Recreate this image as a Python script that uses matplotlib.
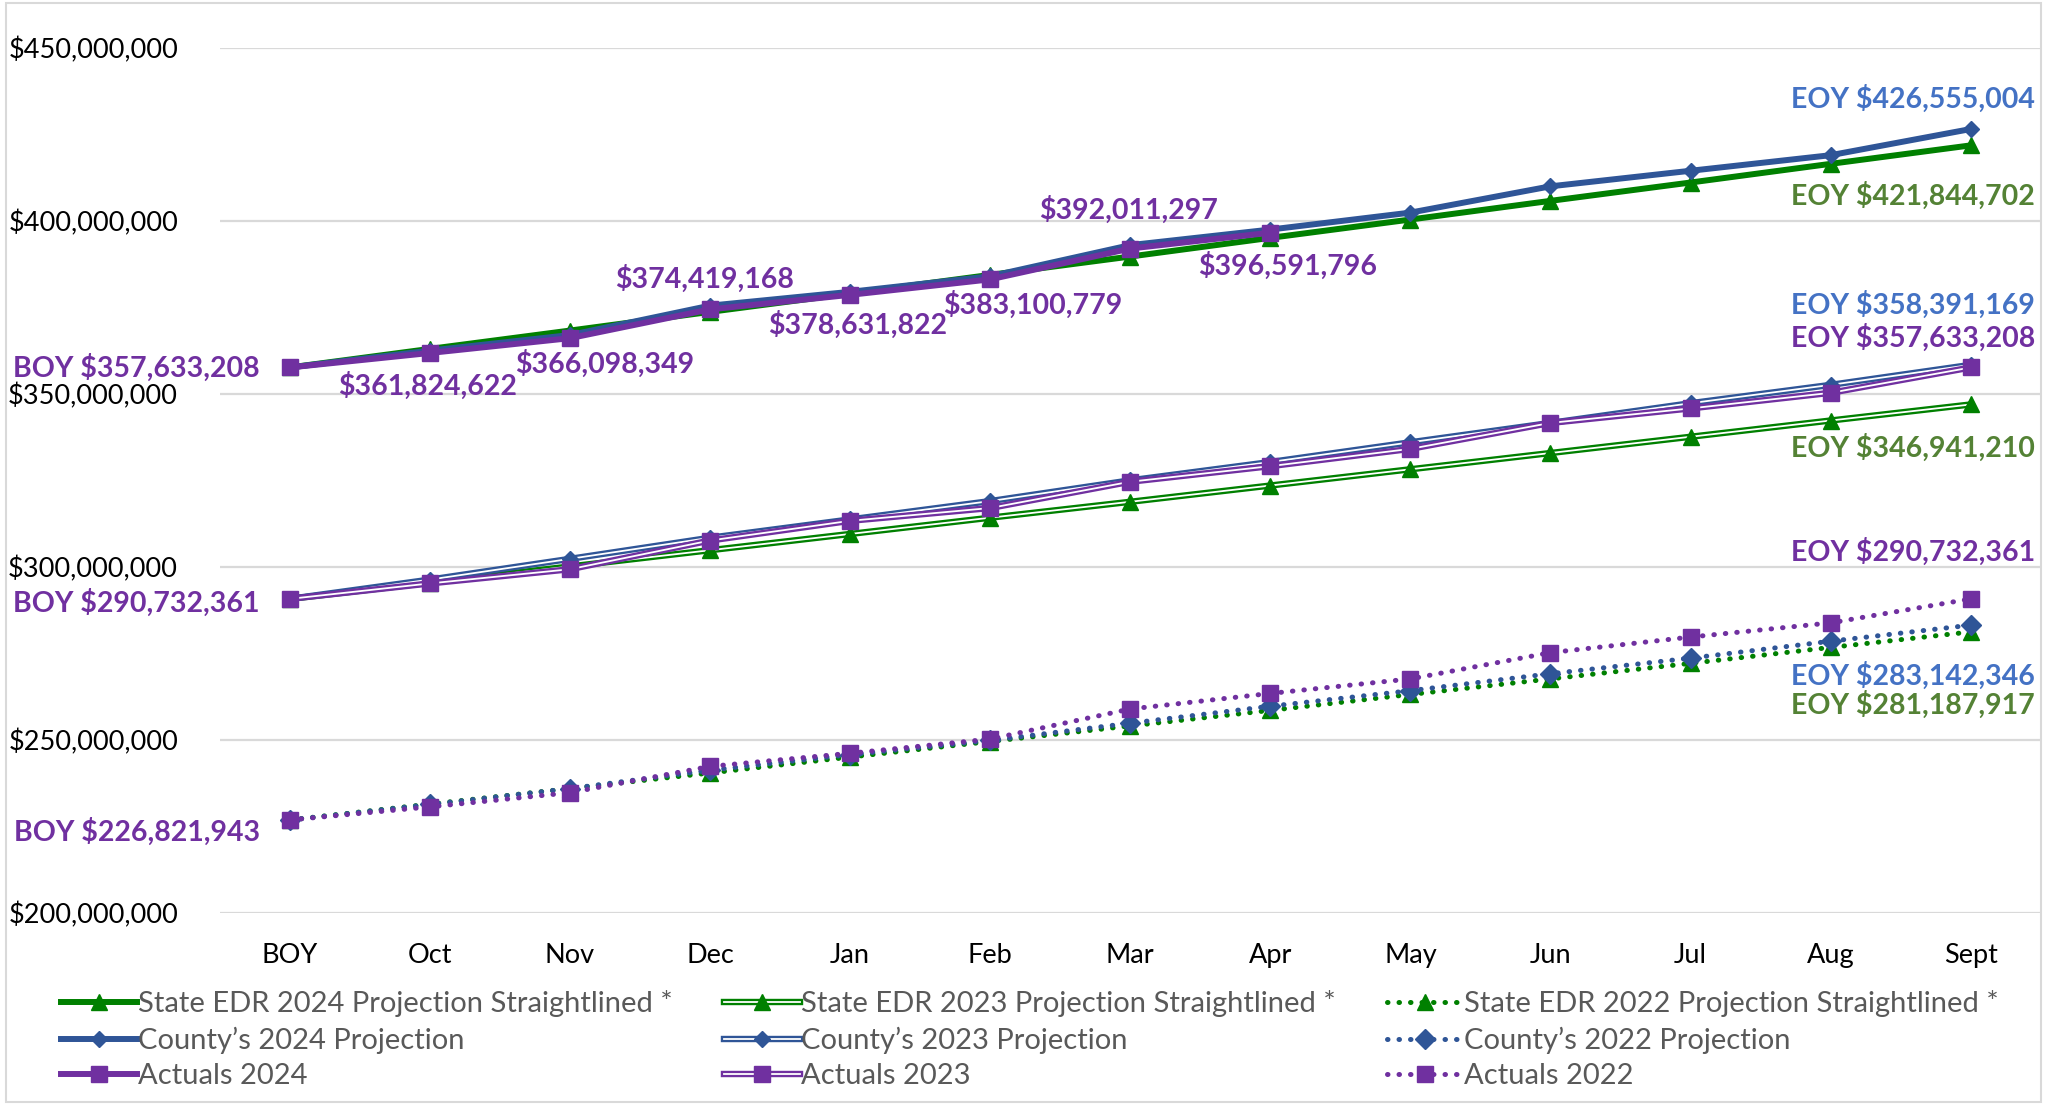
import matplotlib
matplotlib.use("Agg")
import matplotlib.pyplot as plt
from matplotlib.legend_handler import HandlerTuple
from matplotlib.patches import Rectangle

plt.rcParams['font.family'] = ['Lato', 'DejaVu Sans']

months = ['BOY', 'Oct', 'Nov', 'Dec', 'Jan', 'Feb', 'Mar', 'Apr', 'May', 'Jun', 'Jul', 'Aug', 'Sept']

# values in millions of dollars
state_2024 = [357.63, 363.0, 368.3, 373.7, 379.0, 384.4, 389.7, 395.1, 400.4, 405.8, 411.1, 416.5, 421.84]
county_2024 = [357.63, 362.5, 367.0, 375.5, 379.5, 384.0, 393.0, 397.5, 402.4, 410.0, 414.5, 419.0, 426.56]
actuals_2024 = [357.63, 361.82, 366.10, 374.42, 378.63, 383.10, 392.01, 396.59]

state_2023 = [290.73, 295.4, 300.1, 304.8, 309.5, 314.2, 318.8, 323.5, 328.2, 332.9, 337.6, 342.3, 346.94]
county_2023 = [290.73, 296.3, 302.3, 308.4, 313.7, 319.0, 325.0, 330.3, 336.0, 341.6, 347.3, 352.6, 358.39]
actuals_2023 = [290.73, 295.2, 299.3, 307.6, 313.3, 317.0, 324.6, 329.1, 334.1, 341.6, 345.8, 350.3, 357.63]

state_2022 = [226.82, 231.4, 235.9, 240.4, 245.0, 249.5, 254.0, 258.5, 263.1, 267.6, 272.1, 276.7, 281.19]
county_2022 = [226.82, 231.3, 235.9, 241.2, 245.7, 249.8, 254.8, 259.7, 264.2, 269.1, 273.6, 278.5, 283.14]
actuals_2022 = [226.82, 230.6, 234.7, 242.3, 246.1, 250.2, 258.9, 263.4, 267.6, 275.2, 279.7, 283.8, 290.73]

green = '#008000'
blue = '#2F5597'
purple = '#7030A0'
lbl_purple = '#7030A0'
lbl_blue = '#4472C4'
lbl_green = '#548235'

fig = plt.figure(figsize=(20.49, 11.05), dpi=100)
ax = fig.add_axes([0.1072, 0.174, 0.8888, 0.7826])

def x_of(vals):
    return list(range(len(vals)))

def solid(vals, color, marker, ms):
    l, = ax.plot(x_of(vals), vals, color=color, lw=4.3, marker=marker, ms=ms,
                 mfc=color, mec=color, solid_joinstyle='round')
    return l

def double(vals, color, marker, ms):
    # compound line: thick coloured line with a thin white core
    outer, = ax.plot(x_of(vals), vals, color=color, lw=4.6)
    inner, = ax.plot(x_of(vals), vals, color='white', lw=1.3, marker=marker, ms=ms,
                     mfc=color, mec=color)
    return (outer, inner)

def dotted(vals, color, marker, ms):
    l, = ax.plot(x_of(vals), vals, color=color, lw=3.6, ls=(0, (0.1, 2.2)),
                 dash_capstyle='round', marker=marker, ms=ms,
                 mfc=color, mec=color)
    return l

h_s24 = solid(state_2024, green, '^', 12)
h_c24 = solid(county_2024, blue, 'D', 8)
h_a24 = solid(actuals_2024, purple, 's', 12)

h_s23 = double(state_2023, green, '^', 12)
h_c23 = double(county_2023, blue, 'D', 8)
h_a23 = double(actuals_2023, purple, 's', 12)

h_s22 = dotted(state_2022, green, '^', 12)
h_c22 = dotted(county_2022, blue, 'D', 10)
h_a22 = dotted(actuals_2022, purple, 's', 12)

ax.set_xlim(-0.5, 12.5)
ax.set_ylim(200, 450)
ax.set_yticks([200, 250, 300, 350, 400, 450])
ax.set_yticklabels(['${:,.0f}'.format(v * 1e6) for v in [200, 250, 300, 350, 400, 450]])
ax.set_xticks(range(len(months)))
ax.set_xticklabels(months)
ax.tick_params(axis='both', length=0, labelsize=19.5, colors='black')
ax.tick_params(axis='x', pad=22)
ax.tick_params(axis='y', pad=30)
for s in ax.spines.values():
    s.set_visible(False)
ax.grid(True, axis='y', color='#D9D9D9', lw=1.6)
ax.set_axisbelow(True)

def note(text, i, v, dx, dy, color, ha='center'):
    ax.annotate(text, xy=(i, v), xytext=(dx, dy), textcoords='offset pixels',
                ha=ha, va='center', color=color, fontsize=20.5, fontweight='bold')

# 2024 actual labels
note('BOY $357,633,208', 0, actuals_2024[0], -30, 0, lbl_purple, 'right')
note('$361,824,622', 1, actuals_2024[1], -2, -33, lbl_purple)
note('$366,098,349', 2, actuals_2024[2], 35, -26, lbl_purple)
note('$374,419,168', 3, actuals_2024[3], -5, 31, lbl_purple)
note('$378,631,822', 4, actuals_2024[4], 8, -30, lbl_purple)
note('$383,100,779', 5, actuals_2024[5], 43, -25, lbl_purple)
note('$392,011,297', 6, actuals_2024[6], -2, 39, lbl_purple)
note('$396,591,796', 7, actuals_2024[7], 17, -33, lbl_purple)

note('EOY $426,555,004', 12, county_2024[12], 64, 30, lbl_blue, 'right')
note('EOY $421,844,702', 12, state_2024[12], 64, -50, lbl_green, 'right')

note('EOY $358,391,169', 12, county_2023[12], 64, 60, lbl_blue, 'right')
note('EOY $357,633,208', 12, actuals_2023[12], 64, 30, lbl_purple, 'right')
note('EOY $346,941,210', 12, state_2023[12], 64, -43, lbl_green, 'right')
note('BOY $290,732,361', 0, actuals_2023[0], -30, -4, lbl_purple, 'right')

note('EOY $290,732,361', 12, actuals_2022[12], 64, 47, lbl_purple, 'right')
note('EOY $283,142,346', 12, county_2022[12], 64, -51, lbl_blue, 'right')
note('EOY $281,187,917', 12, state_2022[12], 64, -73, lbl_green, 'right')
note('BOY $226,821,943', 0, actuals_2022[0], -30, -12, lbl_purple, 'right')

handles = [h_s24, h_c24, h_a24, h_s23, h_c23, h_a23, h_s22, h_c22, h_a22]
labels = ['State EDR 2024 Projection Straightlined *', 'County\u2019s 2024 Projection', 'Actuals 2024',
          'State EDR 2023 Projection Straightlined *', 'County\u2019s 2023 Projection', 'Actuals 2023',
          'State EDR 2022 Projection Straightlined *', 'County\u2019s 2022 Projection', 'Actuals 2022']
leg = fig.legend(handles=handles, labels=labels, loc='upper left',
                 bbox_to_anchor=(0.024, 0.1145), bbox_transform=fig.transFigure,
                 ncol=3, frameon=False, fontsize=21,
                 handlelength=2.6, handletextpad=0.05, columnspacing=1.75,
                 labelspacing=0.32, borderaxespad=0,
                 handler_map={tuple: HandlerTuple(ndivide=1, pad=0)})
for t in leg.get_texts():
    t.set_color('#595959')

fig.patches.append(Rectangle((0.003, 0.003), 0.993, 0.994, transform=fig.transFigure,
                             fill=False, edgecolor='#D9D9D9', lw=1.5))

fig.savefig('out.png', dpi=100)
